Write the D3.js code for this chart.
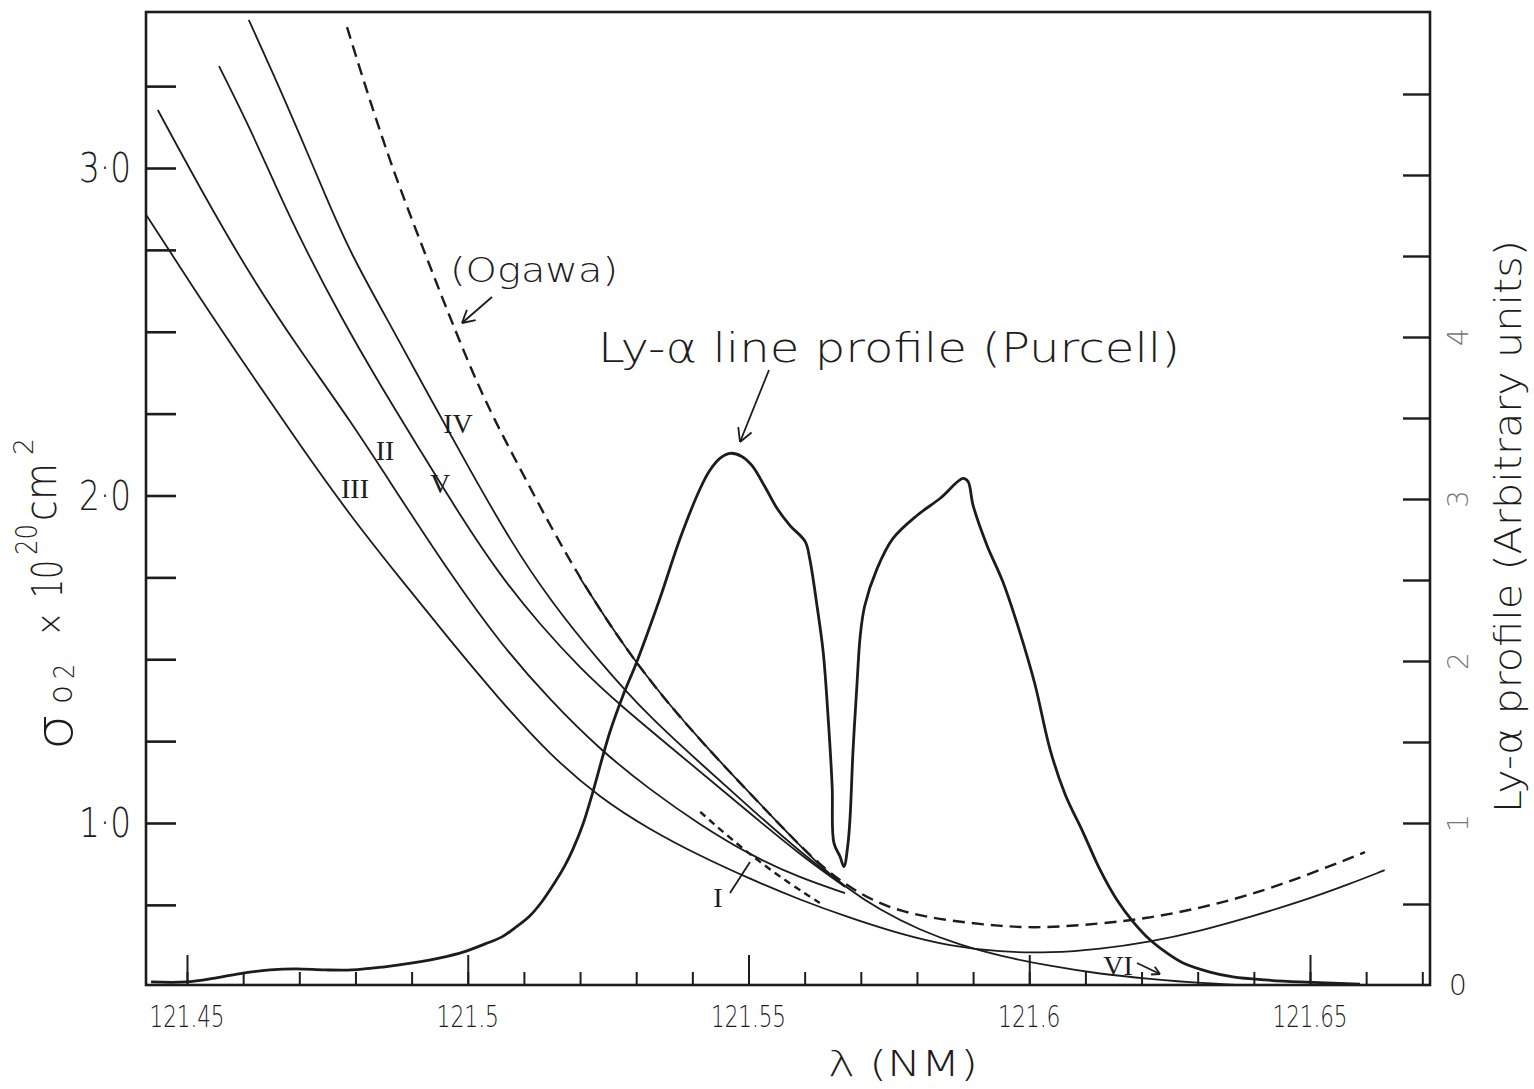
<!DOCTYPE html>
<html>
<head>
<meta charset="utf-8">
<script src="https://cdn.jsdelivr.net/npm/d3@7"></script>
<style>
  body { margin: 0; background: #fff; }
  text { fill: #1c1c1c; }
</style>
</head>
<body>
<div id="container"></div>
<script>
let w = 1534;
let h = 1089;

// wavelength (nm), sigma O2 (x 1e-20 cm^2)
let curveI = [
  [121.5414, 1.034], [121.5467, 0.954], [121.5520, 0.881], [121.5574, 0.814], [121.5627, 0.756]
];
let curveII = [
  [121.4448, 3.177], [121.4523, 2.939], [121.4612, 2.673], [121.4701, 2.444],
  [121.4790, 2.231], [121.4879, 1.995], [121.4968, 1.763], [121.5057, 1.550],
  [121.5146, 1.376], [121.5236, 1.223], [121.5325, 1.101], [121.5414, 0.994],
  [121.5503, 0.902], [121.5592, 0.832], [121.5672, 0.786]
];
let curveIII = [
  [121.4425, 2.863], [121.4523, 2.603], [121.4612, 2.377], [121.4701, 2.154],
  [121.4790, 1.940], [121.4879, 1.748], [121.4968, 1.559], [121.5057, 1.376],
  [121.5146, 1.208], [121.5236, 1.076], [121.5325, 0.979], [121.5414, 0.899],
  [121.5503, 0.829], [121.5592, 0.765], [121.5681, 0.710], [121.5770, 0.661],
  [121.5859, 0.624], [121.5948, 0.606], [121.6037, 0.603], [121.6126, 0.615],
  [121.6215, 0.637], [121.6304, 0.670], [121.6393, 0.713], [121.6482, 0.759],
  [121.6571, 0.814], [121.6633, 0.856]
];
let curveIV = [
  [121.4610, 3.452], [121.4657, 3.275], [121.4701, 3.101], [121.4746, 2.918],
  [121.4790, 2.743], [121.4862, 2.521], [121.4933, 2.298], [121.5004, 2.078],
  [121.5075, 1.864], [121.5146, 1.681], [121.5236, 1.489], [121.5325, 1.321],
  [121.5414, 1.183], [121.5503, 1.046], [121.5592, 0.911], [121.5672, 0.805]
];
let curveV = [
  [121.4557, 3.311], [121.4612, 3.122], [121.4657, 2.948], [121.4707, 2.765],
  [121.4772, 2.551], [121.4844, 2.337], [121.4915, 2.139], [121.4986, 1.940],
  [121.5057, 1.757], [121.5129, 1.605], [121.5200, 1.473], [121.5271, 1.360],
  [121.5378, 1.208], [121.5485, 1.055], [121.5592, 0.902], [121.5672, 0.805]
];
let curveVI = [
  [121.5200, 1.748], [121.5253, 1.605], [121.5307, 1.473], [121.5360, 1.360],
  [121.5414, 1.253], [121.5485, 1.122], [121.5556, 0.994], [121.5627, 0.869],
  [121.5672, 0.805], [121.5734, 0.734], [121.5805, 0.673], [121.5877, 0.627],
  [121.5948, 0.594], [121.6037, 0.563], [121.6126, 0.539], [121.6215, 0.524],
  [121.6304, 0.511], [121.6411, 0.502]
];
let ogawa = [
  [121.4785, 3.430], [121.4817, 3.253], [121.4849, 3.085], [121.4879, 2.939],
  [121.4927, 2.725], [121.4968, 2.545], [121.5027, 2.298], [121.5088, 2.099],
  [121.5146, 1.910], [121.5200, 1.748], [121.5253, 1.605], [121.5307, 1.473],
  [121.5360, 1.360], [121.5414, 1.253], [121.5485, 1.122], [121.5556, 0.994],
  [121.5627, 0.869], [121.5699, 0.780], [121.5770, 0.728], [121.5859, 0.701],
  [121.5948, 0.685], [121.6019, 0.679], [121.6126, 0.692], [121.6215, 0.710],
  [121.6304, 0.740], [121.6393, 0.780], [121.6482, 0.832], [121.6598, 0.911]
];

// wavelength (nm), Ly-alpha profile (arbitrary units)
let lyAlpha = [
  [121.4436, 0.019], [121.4498, 0.019], [121.4550, 0.043], [121.4600, 0.074],
  [121.4648, 0.093], [121.4694, 0.099], [121.4746, 0.093], [121.4794, 0.093],
  [121.4849, 0.111], [121.4902, 0.136], [121.4951, 0.167], [121.4993, 0.204],
  [121.5031, 0.254], [121.5061, 0.297], [121.5084, 0.353], [121.5109, 0.421],
  [121.5132, 0.514], [121.5155, 0.632], [121.5173, 0.737], [121.5187, 0.836],
  [121.5205, 0.991], [121.5219, 1.146], [121.5253, 1.560], [121.5276, 1.783],
  [121.5301, 1.994], [121.5342, 2.384], [121.5378, 2.755], [121.5414, 3.065],
  [121.5431, 3.176], [121.5449, 3.251], [121.5467, 3.282], [121.5488, 3.263],
  [121.5506, 3.207], [121.5529, 3.077], [121.5551, 2.941], [121.5574, 2.836],
  [121.5601, 2.737], [121.5609, 2.632], [121.5622, 2.341], [121.5633, 2.056],
  [121.5642, 1.641], [121.5649, 1.226], [121.5652, 0.879], [121.5663, 0.793],
  [121.5670, 0.731], [121.5677, 0.867], [121.5681, 1.040], [121.5686, 1.437],
  [121.5693, 1.845], [121.5699, 2.155], [121.5707, 2.341], [121.5729, 2.570],
  [121.5757, 2.755], [121.5800, 2.898], [121.5841, 3.003], [121.5882, 3.127],
  [121.5891, 3.108], [121.5900, 2.960], [121.5925, 2.712], [121.5953, 2.489],
  [121.5983, 2.180], [121.6010, 1.858], [121.6037, 1.455], [121.6064, 1.176],
  [121.6096, 0.941], [121.6126, 0.712], [121.6156, 0.526], [121.6185, 0.390],
  [121.6215, 0.279], [121.6245, 0.198], [121.6274, 0.136], [121.6322, 0.080],
  [121.6363, 0.050], [121.6420, 0.031], [121.6482, 0.019], [121.6589, 0.006]
];

let xLabels = [121.45, 121.5, 121.55, 121.6, 121.65];
let xLabelText = ["121.45", "121.5", "121.55", "121.6", "121.65"];
let sigmaLabels = [1, 2, 3];
let sigmaLabelText = ["1·0", "2·0", "3·0"];
let profileLabels = [0, 1, 2, 3, 4];

let frame = {left: 146, right: 1430, top: 12, bottom: 985};
let sans = "'DejaVu Sans', sans-serif";
let serif = "'Liberation Serif', 'DejaVu Serif', serif";

let x = d3.scaleLinear().domain([121.45, 121.65]).range([187, 1310]);
let yL = d3.scaleLinear().domain([1, 3]).range([823, 168]);
let yR = d3.scaleLinear().domain([0, 4]).range([985, 337]);

let viz = d3.select("#container")
  .append("svg")
    .attr("width", w)
    .attr("height", h)
    .style("background-color", "#ffffff")
    .style("font-family", sans)
;

viz.append("clipPath")
    .attr("id", "plotclip")
  .append("rect")
    .attr("x", frame.left)
    .attr("y", frame.top)
    .attr("width", frame.right - frame.left)
    .attr("height", frame.bottom - frame.top)
;

// ticks
let minorX = d3.range(0, 23).map(i => +(121.45 + i * 0.01).toFixed(2));

viz.append("g")
    .attr("transform", "translate(0," + frame.bottom + ")")
    .call(d3.axisTop(x).tickValues(minorX).tickSize(13).tickFormat(""))
;
viz.append("g")
    .attr("transform", "translate(0," + frame.bottom + ")")
    .call(d3.axisTop(x).tickValues(xLabels).tickSize(30).tickFormat(""))
;
let leftTicks = viz.append("g")
    .attr("transform", "translate(" + frame.left + ",0)")
    .call(d3.axisRight(yL).tickValues(d3.range(0.75, 3.3, 0.25)).tickSize(30).tickFormat(""))
;
let rightTicks = viz.append("g")
    .attr("transform", "translate(" + frame.right + ",0)")
    .call(d3.axisLeft(yR).tickValues(d3.range(0.5, 5.6, 0.5)).tickSize(27).tickFormat(""))
;
viz.selectAll(".domain").remove();
viz.selectAll(".tick line").attr("stroke", "#1c1c1c").attr("stroke-width", 2);
leftTicks.selectAll(".tick line").attr("stroke-width", 2.6);
rightTicks.selectAll(".tick line").attr("stroke-width", 2.4);

viz.append("rect")
    .attr("x", frame.left)
    .attr("y", frame.top)
    .attr("width", frame.right - frame.left)
    .attr("height", frame.bottom - frame.top)
    .attr("fill", "none")
    .attr("stroke", "#1c1c1c")
    .attr("stroke-width", 2.6)
;

// curves
let sigmaLine = d3.line()
    .x(d => x(d[0]))
    .y(d => yL(d[1]))
    .curve(d3.curveBasis);

let profileLine = d3.line()
    .x(d => x(d[0]))
    .y(d => yR(d[1]))
    .curve(d3.curveCatmullRom.alpha(0.5));

let plot = viz.append("g").attr("clip-path", "url(#plotclip)");

[curveII, curveIII, curveIV, curveV, curveVI].forEach(c => {
  plot.append("path")
      .attr("d", sigmaLine(c))
      .attr("fill", "none")
      .attr("stroke", "#1c1c1c")
      .attr("stroke-width", 1.8)
  ;
});

plot.append("path")
    .attr("d", sigmaLine(ogawa))
    .attr("fill", "none")
    .attr("stroke", "#1c1c1c")
    .attr("stroke-width", 2.4)
    .attr("stroke-dasharray", "12,7")
;

plot.append("path")
    .attr("d", sigmaLine(curveI))
    .attr("fill", "none")
    .attr("stroke", "#1c1c1c")
    .attr("stroke-width", 2.4)
    .attr("stroke-dasharray", "7,5")
;

plot.append("path")
    .attr("d", profileLine(lyAlpha))
    .attr("fill", "none")
    .attr("stroke", "#1c1c1c")
    .attr("stroke-width", 2.8)
    .attr("stroke-linejoin", "round")
;

// tick labels
viz.selectAll(".xlab").data(xLabels).enter()
  .append("text")
    .attr("class", "xlab")
    .attr("x", d => x(d))
    .attr("y", 1027)
    .attr("text-anchor", "middle")
    .attr("font-size", 30)
    .attr("font-weight", 300)
    .attr("textLength", (d, i) => xLabelText[i].length * 12.5)
    .attr("lengthAdjust", "spacingAndGlyphs")
    .text((d, i) => xLabelText[i])
;

viz.selectAll(".ylab").data(sigmaLabels).enter()
  .append("text")
    .attr("class", "ylab")
    .attr("x", 131)
    .attr("y", d => yL(d) + 14)
    .attr("text-anchor", "end")
    .attr("font-size", 40)
    .attr("font-weight", 300)
    .attr("textLength", 52)
    .attr("lengthAdjust", "spacingAndGlyphs")
    .text((d, i) => sigmaLabelText[i])
;

viz.selectAll(".rlab").data(profileLabels).enter()
  .append("text")
    .attr("class", "rlab")
    .attr("transform", d => "translate(1458," + yR(d) + ") rotate(" + (d === 0 ? 0 : -90) + ")")
    .attr("text-anchor", "middle")
    .attr("dy", "0.36em")
    .attr("font-size", 28)
    .attr("font-weight", 200)
    .style("fill", d => d === 0 ? "#1c1c1c" : "#777")
    .text(d => d)
;

// axis titles
viz.append("text")
    .attr("x", 828)
    .attr("y", 1076)
    .attr("font-size", 36)
    .attr("font-weight", 200)
    .attr("textLength", 150)
    .attr("lengthAdjust", "spacingAndGlyphs")
    .text("λ (NM)")
;

let leftTitle = viz.append("g").attr("transform", "rotate(-90)");
let leftParts = [
  {t: "σ", y: 750, b: 72, s: 52, len: 36},
  {t: "o", y: 704, b: 72, s: 34, len: 19},
  {t: "2", y: 679, b: 74, s: 28, len: 15},
  {t: "×", y: 636, b: 62, s: 36, len: 24},
  {t: "10", y: 598, b: 62, s: 42, len: 38},
  {t: "20", y: 555, b: 37, s: 30, len: 31},
  {t: "cm", y: 521, b: 56, s: 44, len: 58},
  {t: "2", y: 455, b: 33, s: 26, len: 17}
];
leftParts.forEach(p => {
  leftTitle.append("text")
      .attr("x", -p.y)
      .attr("y", p.b)
      .attr("font-size", p.s)
      .attr("font-weight", 200)
      .attr("textLength", p.len)
      .attr("lengthAdjust", "spacingAndGlyphs")
      .text(p.t)
  ;
});

viz.append("text")
    .attr("transform", "rotate(-90)")
    .attr("x", -813)
    .attr("y", 1521)
    .attr("font-size", 38)
    .attr("font-weight", 200)
    .attr("textLength", 573)
    .attr("lengthAdjust", "spacingAndGlyphs")
    .text("Ly-α profile (Arbitrary units)")
;

// annotations
viz.append("text")
    .attr("x", 450)
    .attr("y", 282)
    .attr("font-size", 34)
    .attr("font-weight", 200)
    .attr("textLength", 168)
    .attr("lengthAdjust", "spacingAndGlyphs")
    .text("(Ogawa)")
;
viz.append("text")
    .attr("x", 598)
    .attr("y", 362)
    .attr("font-size", 40)
    .attr("font-weight", 200)
    .attr("textLength", 582)
    .attr("lengthAdjust", "spacingAndGlyphs")
    .text("Ly-α line profile (Purcell)")
;

let romans = [
  {t: "III", x: 355, y: 498},
  {t: "II", x: 385, y: 460},
  {t: "V", x: 440, y: 493},
  {t: "IV", x: 458, y: 433},
  {t: "I", x: 718, y: 907},
  {t: "VI", x: 1118, y: 975}
];
romans.forEach(r => {
  viz.append("text")
      .attr("x", r.x)
      .attr("y", r.y)
      .attr("text-anchor", "middle")
      .style("font-family", serif)
      .attr("font-size", 28)
      .text(r.t)
  ;
});

function arrow(x1, y1, x2, y2, head) {
  viz.append("line")
      .attr("x1", x1).attr("y1", y1)
      .attr("x2", x2).attr("y2", y2)
      .attr("stroke", "#1c1c1c")
      .attr("stroke-width", 1.8)
  ;
  if (!head) return;
  let a = Math.atan2(y2 - y1, x2 - x1);
  [-0.5, 0.5].forEach(s => {
    viz.append("line")
        .attr("x1", x2).attr("y1", y2)
        .attr("x2", x2 - head * Math.cos(a + s))
        .attr("y2", y2 - head * Math.sin(a + s))
        .attr("stroke", "#1c1c1c")
        .attr("stroke-width", 1.8)
    ;
  });
}

arrow(492, 297, 462, 323, 14);
arrow(769, 370, 740, 442, 15);
arrow(730, 893, 750, 862, 0);
arrow(1137, 963, 1160, 974, 9);
</script>
</body>
</html>
